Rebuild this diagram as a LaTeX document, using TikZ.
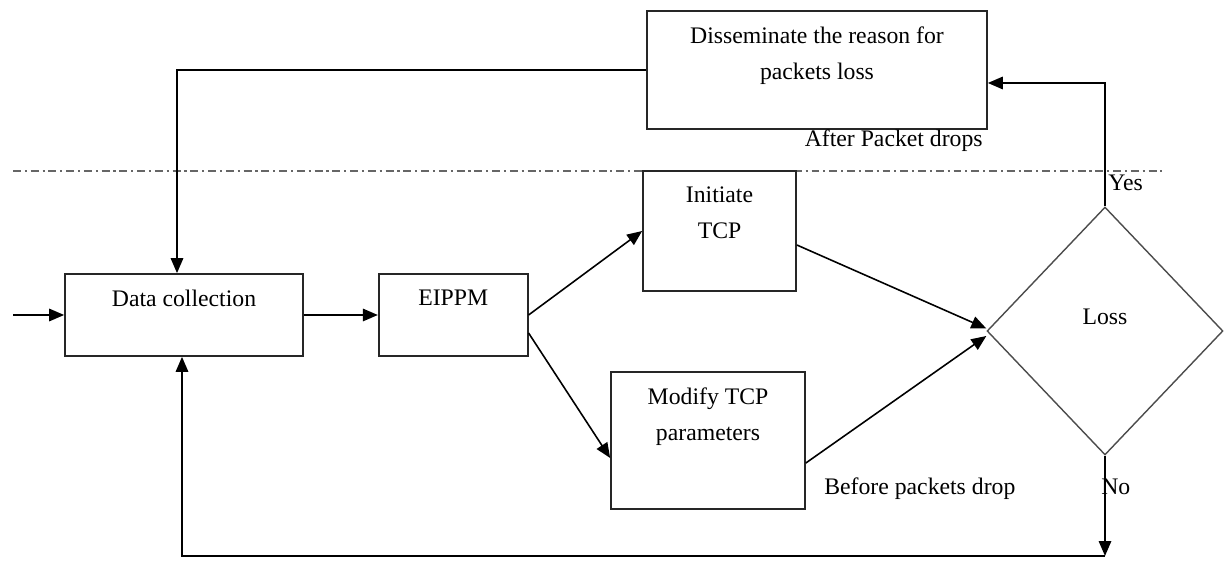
\documentclass[tikz,border=0pt]{standalone}
\usepackage{fontspec}
\setmainfont{Liberation Serif}
\usetikzlibrary{shapes.geometric,positioning,arrows.meta}
\tikzset{
  >={Triangle[length=3mm,width=2.5mm]},
  blk/.style={draw=black!85,line width=1pt,fill=white,inner sep=0pt},
  dec/.style={diamond,draw=black!70,line width=0.8pt,fill=white,inner sep=0pt,
   minimum width=4.72cm,minimum height=4.96cm},
  txt/.style={inner sep=0pt,align=center,font=\fontsize{13.5}{20.5}\selectfont},
  flow/.style={->,line width=0.9pt},
  sep/.style={black!60,line width=0.8pt,dash pattern=on 4.5pt off 2.2pt on 1.2pt off 2.2pt}
}
\begin{document}
\begin{tikzpicture}[x=0.02cm,y=-0.02cm]
  \useasboundingbox (0,0) rectangle (1224,563);

  % phase separator
  \coordinate (sl) at (13,171);
  \coordinate (sr) at (1162,171);
  \draw[sep] (sl) -- (sr);

  \node[blk,minimum width=4.76cm,minimum height=1.64cm] (dc) at (184,315) {};
  \node[blk,minimum width=2.98cm,minimum height=1.64cm,right=1.48cm of dc] (eippm) {};
  \node[blk,minimum width=3.06cm,minimum height=2.4cm] (init) at (719.5,231) {};
  \node[blk,minimum width=3.88cm,minimum height=2.74cm] (modify) at (708,440.5) {};
  \node[blk,minimum width=6.8cm,minimum height=2.36cm] (dissem) at (817,70) {};
  \node[dec] (loss) at (1105,331) {};

  \node[txt,below=0.33cm of dc.north] (dct) {Data collection};
  \node[txt,below=0.33cm of eippm.north] (eippmt) {EIPPM};
  \node[txt,below=0.33cm of init.north] (initt) {Initiate\\TCP};
  \node[txt,below=0.33cm of modify.north] (modifyt) {Modify TCP\\parameters};
  \node[txt,below=0.33cm of dissem.north] (dissemt) {Disseminate the reason for\\packets loss};
  \node[txt,anchor=base] (losst) at (1105,325) {Loss};

  \node[txt,anchor=base east] (after) at (983,147) {After Packet drops};
  \node[txt,anchor=base west] (before) at (824,495) {Before packets drop};
  \node[txt,anchor=base west] (yes) at (1108,191) {Yes};
  \node[txt,anchor=base west] (no) at (1101,495) {No};

  \coordinate (in) at (13,315);
  \coordinate (nc) at (1105,556);

  \draw[flow] (in) -- (dc);
  \draw[flow] (dc) -- (eippm);
  \draw[flow] (eippm.east) -- (init.west);
  \draw[flow] ([yshift=-0.36cm]eippm.east) -- ([yshift=-0.35cm]modify.west);
  \draw[flow] ([yshift=-0.28cm]init.east) -- ([yshift=0.05cm]loss.west);
  \draw[flow] ([yshift=-0.45cm]modify.east) -- ([yshift=-0.1cm]loss.west);
  \draw[flow] (loss.north) |- ([yshift=-0.26cm]dissem.east);
  \draw[flow] (dissem.west) -| ([xshift=-0.14cm]dc.north);
  \draw[flow] (loss.south) -- (nc);
  \draw[flow] (nc) -| ([xshift=-0.04cm]dc.south);
\end{tikzpicture}
\end{document}
